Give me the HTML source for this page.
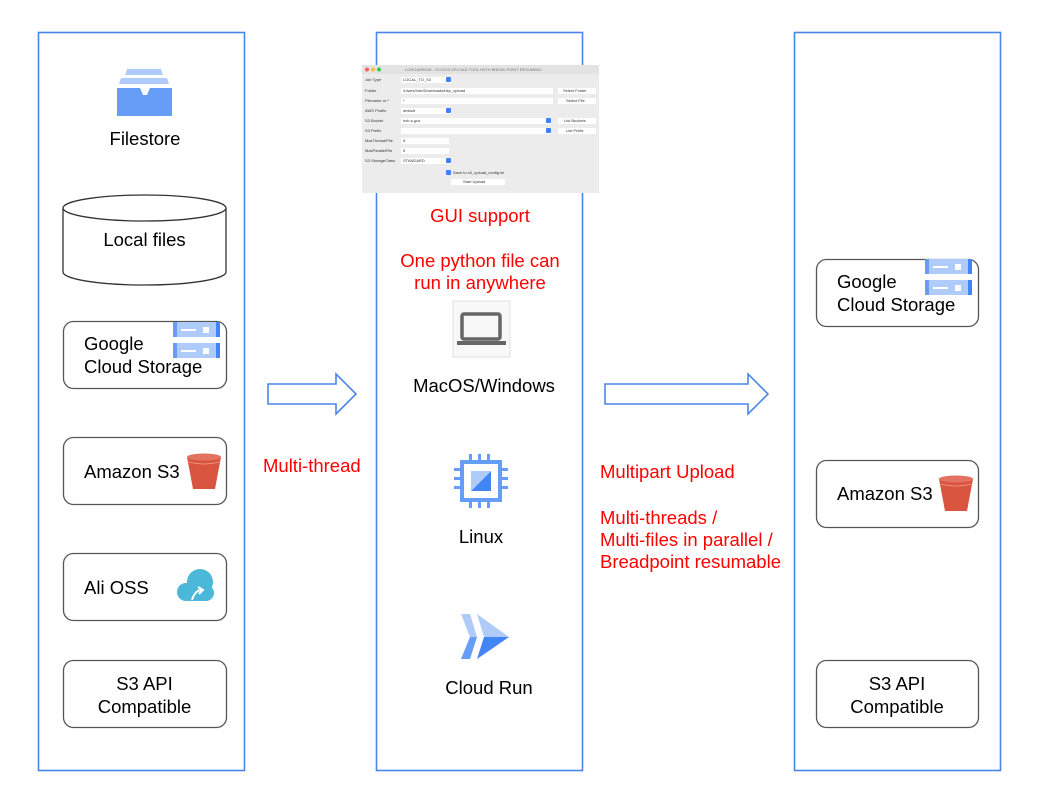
<!DOCTYPE html>
<html><head><meta charset="utf-8"><style>
html,body{margin:0;padding:0;background:#fff;}
svg{display:block;font-family:"Liberation Sans",Arial,sans-serif;}
</style></head><body>
<svg width="1041" height="799" viewBox="0 0 1041 799" xmlns="http://www.w3.org/2000/svg">
<rect x="0" y="0" width="1041" height="799" fill="#fff"/>
<g fill="none" stroke="#4a86e8" stroke-width="1.6">
<rect x="38.5" y="32.5" width="206" height="738"/>
<rect x="376.5" y="32.5" width="206" height="738"/>
<rect x="794.5" y="32.5" width="206" height="738"/>
<path d="M268,384 L336,384 L336,374 L356,394 L336,414 L336,404 L268,404 Z"/>
<path d="M605,384 L748,384 L748,374 L768,394 L748,414 L748,404 L605,404 Z"/>
</g>

<path d="M127,69 L161,69 L163,75 L125,75 Z" fill="#aecbfa"/>
<path d="M121,78 L167,78 L169,84 L119,84 Z" fill="#aecbfa"/>
<path d="M117,88 L140,88 L143,95 L147,95 L150,88 L172,88 L172,116 L117,116 Z" fill="#669df6"/>
<text x="145" y="145" font-size="18.5" text-anchor="middle" fill="#000">Filestore</text>

<g fill="#fff" stroke="#333" stroke-width="1.3">
<path d="M63,208 L63,272 A81.5,13 0 0 0 226,272 L226,208"/>
<ellipse cx="144.5" cy="208" rx="81.5" ry="13"/>
</g>
<text x="144.5" y="246" font-size="18.5" text-anchor="middle">Local files</text>

<g fill="#fff" stroke="#555" stroke-width="1.3">
<rect x="63.5" y="321.5" width="163" height="67" rx="10"/>
<rect x="63.5" y="437.5" width="163" height="67" rx="10"/>
<rect x="63.5" y="553.5" width="163" height="67" rx="10"/>
<rect x="63.5" y="660.5" width="163" height="67" rx="10"/>
<rect x="816.5" y="259.5" width="162" height="67" rx="10"/>
<rect x="816.5" y="460.5" width="162" height="67" rx="10"/>
<rect x="816.5" y="660.5" width="162" height="67" rx="10"/>
</g>

<g>
<rect x="173" y="322" width="47" height="15" fill="#aecbfa"/>
<rect x="173" y="343" width="47" height="15" fill="#aecbfa"/>
<rect x="173" y="322" width="4" height="15" fill="#669df6"/>
<rect x="173" y="343" width="4" height="15" fill="#669df6"/>
<rect x="216" y="322" width="4" height="15" fill="#4285f4"/>
<rect x="216" y="343" width="4" height="15" fill="#4285f4"/>
<rect x="181" y="329" width="15" height="2" fill="#fff"/>
<rect x="181" y="350" width="15" height="2" fill="#fff"/>
<rect x="203" y="327" width="6" height="6" fill="#fff"/>
<rect x="203" y="348" width="6" height="6" fill="#fff"/>
</g>
<text x="84" y="350" font-size="18.5">Google</text>
<text x="84" y="373" font-size="18.5">Cloud Storage</text>

<text x="84" y="478" font-size="18.5">Amazon S3</text>
<path d="M187,457 L221,457 L215,489 L193,489 Z" fill="#d9553f"/>
<ellipse cx="204" cy="457" rx="17" ry="3.5" fill="#e27362"/>
<path d="M189,462 Q204,466 219,462" fill="none" stroke="#f0a090" stroke-width="0.8"/>

<text x="84" y="594" font-size="18.5">Ali OSS</text>
<g fill="#4bb8d9">
<circle cx="200" cy="582" r="13"/>
<circle cx="186" cy="592" r="9"/>
<rect x="182" y="585" width="32" height="16" rx="8"/>
</g>
<path d="M192,600 Q195,590 202,590 M198,587 L203,590 L199,594" fill="none" stroke="#fff" stroke-width="2"/>

<text x="144.5" y="690" font-size="18.5" text-anchor="middle">S3 API</text>
<text x="144.5" y="713" font-size="18.5" text-anchor="middle">Compatible</text>

<g font-size="4" fill="#333">
<rect x="362" y="65" width="237" height="128" fill="#ececec"/>
<rect x="362" y="65" width="237" height="9" fill="#e3e3e3"/>
<circle cx="367" cy="69.5" r="2" fill="#fc605b"/>
<circle cx="373" cy="69.5" r="2" fill="#fdbc40"/>
<circle cx="379" cy="69.5" r="2" fill="#34c84a"/>
<text x="405" y="71" fill="#777">LONGARROW - GCS/S3 UPLOAD TOOL WITH BREAK-POINT RESUMING</text>
<text x="365" y="81">Job Type</text><rect x="401" y="77" width="50" height="6" fill="#fff"/><rect x="446" y="77" width="5" height="5" rx="1" fill="#3b82f6"/><text x="403" y="81">LOCAL_TO_S3</text>
<text x="365" y="92">Folder</text><rect x="401" y="88" width="152" height="6" fill="#fff"/><text x="403" y="92">/Users/hub/Downloads/bkp_upload</text><rect x="558" y="88" width="38" height="6" fill="#fff"/><text x="563" y="92">Select Folder</text>
<text x="365" y="102">Filename or *</text><rect x="401" y="98" width="152" height="6" fill="#fff"/><text x="403" y="102">*</text><rect x="558" y="98" width="38" height="6" fill="#fff"/><text x="566" y="102">Select File</text>
<text x="365" y="112">AWS Profile</text><rect x="401" y="108" width="50" height="6" fill="#fff"/><rect x="446" y="108" width="5" height="5" rx="1" fill="#3b82f6"/><text x="403" y="112">default</text>
<text x="365" y="122">S3 Bucket</text><rect x="401" y="118" width="150" height="6" fill="#fff"/><rect x="546" y="118" width="5" height="5" rx="1" fill="#3b82f6"/><text x="403" y="122">hzb-s-gcs</text><rect x="558" y="118" width="38" height="6" fill="#fff"/><text x="564" y="122">List Buckets</text>
<text x="365" y="132">S3 Prefix</text><rect x="401" y="128" width="150" height="6" fill="#fff"/><rect x="546" y="128" width="5" height="5" rx="1" fill="#3b82f6"/><rect x="558" y="128" width="38" height="6" fill="#fff"/><text x="566" y="132">List Prefix</text>
<text x="365" y="142">MaxThread/File</text><rect x="401" y="138" width="48" height="6" fill="#fff"/><text x="403" y="142">5</text>
<text x="365" y="152">MaxParallelFile</text><rect x="401" y="148" width="48" height="6" fill="#fff"/><text x="403" y="152">5</text>
<text x="365" y="162">S3 StorageClass</text><rect x="401" y="158" width="50" height="6" fill="#fff"/><rect x="446" y="158" width="5" height="5" rx="1" fill="#3b82f6"/><text x="403" y="162">STANDARD</text>
<rect x="446" y="170" width="5" height="5" rx="1" fill="#3b82f6"/><text x="453" y="174">Save to s3_upload_config.ini</text>
<rect x="451" y="179" width="54" height="6" fill="#fff"/><text x="463" y="183">Start Upload</text>
</g>

<g fill="#ff0000" font-size="18.5">
<text x="480" y="222" text-anchor="middle">GUI  support</text>
<text x="480" y="267" text-anchor="middle">One python file can</text>
<text x="480" y="289" text-anchor="middle">run in anywhere</text>
<text x="263" y="472">Multi-thread</text>
<text x="600" y="478">Multipart Upload</text>
<text x="600" y="524">Multi-threads /</text>
<text x="600" y="546">Multi-files in parallel /</text>
<text x="600" y="568">Breadpoint resumable</text>
</g>

<rect x="453" y="301" width="57" height="56" fill="#f8f8f8" stroke="#e0e0e0"/>
<rect x="462" y="314" width="38" height="25" rx="2" fill="none" stroke="#666" stroke-width="3.5"/>
<rect x="457" y="341" width="49" height="4" fill="#666"/>
<text x="484" y="392" font-size="18.5" text-anchor="middle">MacOS/Windows</text>

<g fill="#669df6">
<rect x="462" y="462" width="38" height="38" fill="none" stroke="#669df6" stroke-width="4"/>
<path d="M471,491 L491,471 L491,491 Z" fill="#4285f4"/>
<path d="M471,471 L491,471 L471,491 Z" fill="#aecbfa"/>
<rect x="469" y="454" width="3" height="6"/><rect x="478" y="454" width="3" height="6"/><rect x="487" y="454" width="3" height="6"/>
<rect x="469" y="502" width="3" height="6"/><rect x="478" y="502" width="3" height="6"/><rect x="487" y="502" width="3" height="6"/>
<rect x="454" y="468" width="6" height="3"/><rect x="454" y="477" width="6" height="3"/><rect x="454" y="486" width="6" height="3"/>
<rect x="502" y="468" width="6" height="3"/><rect x="502" y="477" width="6" height="3"/><rect x="502" y="486" width="6" height="3"/>
</g>
<text x="481" y="543" font-size="18.5" text-anchor="middle">Linux</text>

<path d="M461,614 L470,614 L477,637 L470,637 Z" fill="#aecbfa"/>
<path d="M470,637 L477,637 L470,659 L461,659 Z" fill="#669df6"/>
<path d="M477,614 L509,637 L484,637 Z" fill="#aecbfa"/>
<path d="M484,637 L509,637 L477,659 Z" fill="#4285f4"/>
<text x="489" y="694" font-size="18.5" text-anchor="middle">Cloud Run</text>

<g>
<rect x="925" y="259" width="47" height="15" fill="#aecbfa"/>
<rect x="925" y="280" width="47" height="15" fill="#aecbfa"/>
<rect x="925" y="259" width="4" height="15" fill="#669df6"/>
<rect x="925" y="280" width="4" height="15" fill="#669df6"/>
<rect x="968" y="259" width="4" height="15" fill="#4285f4"/>
<rect x="968" y="280" width="4" height="15" fill="#4285f4"/>
<rect x="933" y="266" width="15" height="2" fill="#fff"/>
<rect x="933" y="287" width="15" height="2" fill="#fff"/>
<rect x="955" y="264" width="6" height="6" fill="#fff"/>
<rect x="955" y="285" width="6" height="6" fill="#fff"/>
</g>
<text x="837" y="288" font-size="18.5">Google</text>
<text x="837" y="311" font-size="18.5">Cloud Storage</text>

<text x="837" y="500" font-size="18.5">Amazon S3</text>
<path d="M939,479 L973,479 L967,511 L945,511 Z" fill="#d9553f"/>
<ellipse cx="956" cy="479" rx="17" ry="3.5" fill="#e27362"/>
<path d="M941,484 Q956,488 971,484" fill="none" stroke="#f0a090" stroke-width="0.8"/>

<text x="897" y="690" font-size="18.5" text-anchor="middle">S3 API</text>
<text x="897" y="713" font-size="18.5" text-anchor="middle">Compatible</text>
</svg>
</body></html>
